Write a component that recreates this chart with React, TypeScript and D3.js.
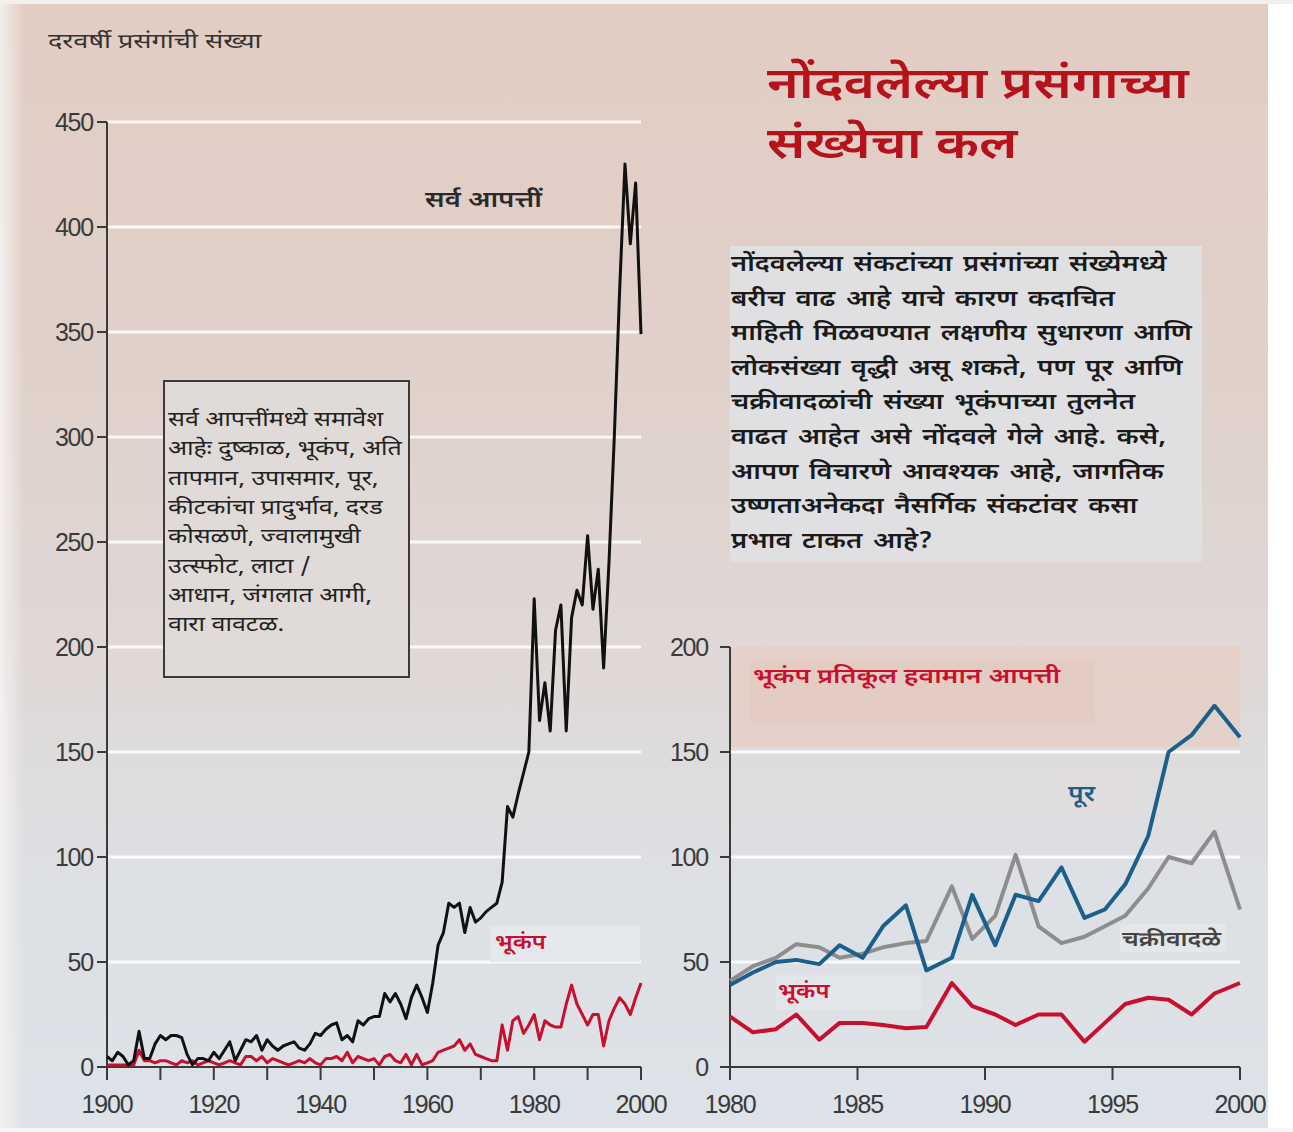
import React from "react";
import * as d3 from "d3";

// ---------- DATA ----------
const leftYears = d3.range(1900, 2001);
const allDisasters = [
  5, 3, 7, 5, 1, 3, 17, 4, 4, 11,
  15, 13, 15, 15, 14, 6, 1, 4, 4, 3,
  7, 4, 8, 12, 3, 8, 13, 12, 15, 8,
  13, 10, 8, 10, 11, 12, 9, 8, 11, 16,
  15, 18, 20, 21, 13, 15, 12, 22, 20, 23,
  24, 24, 35, 31, 35, 30, 23, 33, 39, 33,
  26, 40, 58, 64, 78, 76, 78, 64, 76, 69,
  71, 74, 76, 78, 88, 124, 119, 130, 140, 150,
  223, 165, 183, 160, 208, 220, 160, 214, 227, 220,
  253, 218, 237, 190, 240, 300, 370, 430, 392, 421,
  349,
];
const earthquakesLeft = [
  1, 1, 1, 1, 1, 1, 8, 3, 3, 2,
  3, 3, 2, 1, 3, 2, 3, 1, 2, 3,
  2, 1, 2, 3, 2, 1, 5, 5, 3, 5,
  2, 4, 3, 2, 1, 2, 3, 2, 4, 2,
  1, 4, 4, 5, 3, 7, 2, 5, 4, 3,
  4, 1, 5, 6, 3, 2, 6, 1, 6, 1,
  2, 3, 7, 8, 9, 10, 13, 8, 11, 6,
  5, 4, 3, 3, 20, 8, 22, 24, 16, 20,
  25, 13, 22, 20, 19, 19, 30, 39, 30, 25,
  20, 25, 25, 10, 22, 28, 33, 30, 25, 33,
  40,
];

const rightYears = [
  1980, 1980.9, 1981.8, 1982.6, 1983.5, 1984.3, 1985.2, 1986.0, 1986.9, 1987.7,
  1988.7, 1989.5, 1990.4, 1991.2, 1992.1, 1993.0, 1993.9, 1994.7, 1995.5, 1996.4,
  1997.2, 1998.1, 1999.0, 2000,
];
const floods = [
  39, 45, 50, 51, 49, 58, 52, 67, 77, 46,
  52, 82, 58, 82, 79, 95, 71, 75, 87, 110,
  150, 158, 172, 157,
];
const cyclones = [
  41, 48, 52, 58.5, 57, 52, 54, 57, 59, 60,
  86, 61, 72, 101, 67, 59, 62, 67, 72, 85,
  100, 97, 112, 75,
];
const earthquakesRight = [
  24, 16.5, 18, 25, 13, 21, 21, 20, 18.5, 19,
  40, 29, 25, 20, 25, 25, 12, 21, 30, 33,
  32, 25, 35, 40,
];

const leftYTicks = [0, 50, 100, 150, 200, 250, 300, 350, 400, 450];
const leftXTicks = d3.range(1900, 2001, 10);
const leftXLabels = [1900, 1920, 1940, 1960, 1980, 2000];
const rightYTicks = [0, 50, 100, 150, 200];
const rightXTicks = [1980, 1985, 1990, 1995, 2000];

const yAxisTitle = "दरवर्षी प्रसंगांची संख्या";
const titleLines = ["नोंदवलेल्या प्रसंगाच्या", "संख्येचा कल"];
const noteLines = [
  "सर्व आपत्तींमध्ये समावेश",
  "आहेः दुष्काळ, भूकंप, अति",
  "तापमान, उपासमार, पूर,",
  "कीटकांचा प्रादुर्भाव, दरड",
  "कोसळणे, ज्वालामुखी",
  "उत्स्फोट, लाटा  /",
  "आधान, जंगलात आगी,",
  "वारा वावटळ.",
];
const bodyLines = [
  "नोंदवलेल्या संकटांच्या प्रसंगांच्या संख्येमध्ये",
  "बरीच वाढ आहे याचे कारण कदाचित",
  "माहिती मिळवण्यात लक्षणीय सुधारणा आणि",
  "लोकसंख्या वृद्धी असू शकते, पण पूर आणि",
  "चक्रीवादळांची संख्या भूकंपाच्या तुलनेत",
  "वाढत आहेत असे नोंदवले गेले आहे. कसे,",
  "आपण विचारणे आवश्यक आहे, जागतिक",
  "उष्णताअनेकदा नैसर्गिक संकटांवर कसा",
  "प्रभाव टाकत आहे?",
];
const labelAll = "सर्व आपत्तीं";
const labelQuakeLeft = "भूकंप";
const labelRightTitle = "भूकंप प्रतिकूल हवामान आपत्ती";
const labelFlood = "पूर";
const labelCyclone = "चक्रीवादळे";
const labelQuakeRight = "भूकंप";

// ---------- STYLE ----------
const W = 1293;
const H = 1132;
const DEV = "'Noto Sans Devanagari', 'Noto Sans', 'Lohit Devanagari', sans-serif";
const NUM = "'Liberation Sans', Arial, sans-serif";
const AXIS = "#3a3a3a";
const RED = "#c8102e";
const BLUE = "#1b5f8c";
const GREY = "#8d8d8d";

function WideText(props: {
  x: number;
  y: number;
  sx: number;
  size: number;
  fill: string;
  weight?: string;
  wordSpacing?: number;
  children: React.ReactNode;
}) {
  const { x, y, sx, size, fill, weight, wordSpacing, children } = props;
  return (
    <text
      transform={`translate(${x},${y}) scale(${sx},1)`}
      fontFamily={DEV}
      fontSize={size}
      fontWeight={weight || "normal"}
      fill={fill}
      style={{ wordSpacing: wordSpacing ? `${wordSpacing}px` : undefined }}
    >
      {children}
    </text>
  );
}

export default function App() {
  const xL = d3.scaleLinear().domain([1900, 2000]).range([107, 641]);
  const yL = d3.scaleLinear().domain([0, 450]).range([1067, 122]);
  const xR = d3.scaleLinear().domain([1980, 2000]).range([730, 1240]);
  const yR = d3.scaleLinear().domain([0, 200]).range([1067, 647]);

  const lineL = d3
    .line<number>()
    .x((_, i) => xL(leftYears[i]))
    .y((d) => yL(d))
    .curve(d3.curveLinear);
  const lineR = d3
    .line<number>()
    .x((_, i) => xR(rightYears[i]))
    .y((d) => yR(d))
    .curve(d3.curveLinear);

  const numStyle = { fontFamily: NUM, fontSize: 25, fill: AXIS, letterSpacing: -1.2 } as const;

  return (
    <div style={{ position: "absolute", left: 0, top: 0, width: W, height: H }}>
      <svg width={W} height={H} viewBox={`0 0 ${W} ${H}`} style={{ display: "block" }}>
        <defs>
          <linearGradient id="bg" x1="0" y1="0" x2="0" y2="1">
            <stop offset="0" stopColor="#e2cdc3" />
            <stop offset="0.35" stopColor="#e0d1cb" />
            <stop offset="0.6" stopColor="#dfd9d8" />
            <stop offset="0.78" stopColor="#dde0e4" />
            <stop offset="1" stopColor="#dde3e9" />
          </linearGradient>
          <linearGradient id="edge" x1="0" y1="0" x2="1" y2="0">
            <stop offset="0" stopColor="#f5f2f1" stopOpacity={0.9} />
            <stop offset="1" stopColor="#f5f2f1" stopOpacity={0} />
          </linearGradient>
        </defs>
        <rect x={0} y={0} width={W} height={H} fill="url(#bg)" />
        <rect x={0} y={0} width={24} height={H} fill="url(#edge)" />
        <rect x={1268} y={0} width={25} height={H} fill="#ffffff" />
        <rect x={0} y={0} width={W} height={4} fill="#f4efec" />
        <rect x={0} y={1128} width={W} height={4} fill="#f4f6f8" />

        {/* Left grid */}
        {leftYTicks.filter((t) => t > 0).map((t) => (
          <line key={"gl" + t} x1={xL(1900)} x2={xL(2000)} y1={yL(t)} y2={yL(t)} stroke="#ffffff" strokeWidth={3} opacity={0.85} />
        ))}
        {/* Right grid & pink band */}
        <rect x={xR(1980)} y={yR(200)} width={xR(2000) - xR(1980)} height={yR(150) - yR(200) - 5} fill="#e5cdc2" opacity={0.7} />
        {rightYTicks.filter((t) => t > 0 && t < 200).map((t) => (
          <line key={"gr" + t} x1={xR(1980)} x2={xR(2000)} y1={yR(t)} y2={yR(t)} stroke="#ffffff" strokeWidth={3} opacity={0.85} />
        ))}

        {/* Y axis title */}
        <WideText x={48} y={48} sx={1.35} size={20} fill="#333">{yAxisTitle}</WideText>

        {/* Title */}
        {titleLines.map((t, i) => (
          <WideText key={"t" + i} x={767} y={98 + i * 60} sx={1.22} size={44} weight="600" fill="#b5121b">{t}</WideText>
        ))}

        {/* Body text block */}
        <rect x={730} y={246} width={472} height={316} fill="#e0e0e3" />
        {bodyLines.map((t, i) => (
          <WideText key={"b" + i} x={731} y={271 + i * 34.6} sx={1.21} size={22.5} weight="600" fill="#1a1a1a" wordSpacing={3}>{t}</WideText>
        ))}

        {/* Left axes */}
        <line x1={xL(1900)} x2={xL(1900)} y1={yL(450)} y2={yL(0)} stroke={AXIS} strokeWidth={2} />
        <line x1={xL(1900)} x2={xL(2000)} y1={yL(0)} y2={yL(0)} stroke={AXIS} strokeWidth={2} />
        {leftYTicks.map((t) => (
          <g key={"yl" + t}>
            <line x1={xL(1900) - 10} x2={xL(1900)} y1={yL(t)} y2={yL(t)} stroke={AXIS} strokeWidth={2} />
            <text x={xL(1900) - 14} y={yL(t) + 9} textAnchor="end" {...numStyle}>{t}</text>
          </g>
        ))}
        {leftXTicks.map((t) => (
          <line key={"xl" + t} x1={xL(t)} x2={xL(t)} y1={yL(0)} y2={yL(0) + 13} stroke={AXIS} strokeWidth={2} />
        ))}
        {leftXLabels.map((t) => (
          <text key={"xll" + t} x={xL(t)} y={1113} textAnchor="middle" {...numStyle}>{t}</text>
        ))}

        {/* Left note box */}
        <rect x={164} y={381} width={245} height={296} fill="#e0dbd8" stroke="#3a3a3a" strokeWidth={2} />
        {noteLines.map((t, i) => (
          <WideText key={"n" + i} x={168} y={426 + i * 29.3} sx={1.25} size={20} fill="#222">{t}</WideText>
        ))}

        {/* Left lines */}
        <path d={lineL(earthquakesLeft) || ""} fill="none" stroke={RED} strokeWidth={3} strokeLinejoin="round" />
        <path d={lineL(allDisasters) || ""} fill="none" stroke="#111" strokeWidth={3} strokeLinejoin="round" />

        {/* Left labels */}
        <WideText x={425} y={207} sx={1.25} size={22} weight="600" fill="#2a2a2a">{labelAll}</WideText>
        <rect x={490} y={926} width={150} height={36} fill="#e4e8ec" />
        <WideText x={495} y={949} sx={1.18} size={20} weight="600" fill={RED}>{labelQuakeLeft}</WideText>

        {/* Right axes */}
        <line x1={xR(1980)} x2={xR(1980)} y1={yR(200)} y2={yR(0)} stroke={AXIS} strokeWidth={2} />
        <line x1={xR(1980)} x2={xR(2000)} y1={yR(0)} y2={yR(0)} stroke={AXIS} strokeWidth={2} />
        {rightYTicks.map((t) => (
          <g key={"yr" + t}>
            <line x1={xR(1980) - 10} x2={xR(1980)} y1={yR(t)} y2={yR(t)} stroke={AXIS} strokeWidth={2} />
            <text x={xR(1980) - 22} y={yR(t) + 9} textAnchor="end" {...numStyle}>{t}</text>
          </g>
        ))}
        {rightXTicks.map((t) => (
          <g key={"xr" + t}>
            <line x1={xR(t)} x2={xR(t)} y1={yR(0)} y2={yR(0) + 13} stroke={AXIS} strokeWidth={2} />
            <text x={xR(t)} y={1113} textAnchor="middle" {...numStyle}>{t}</text>
          </g>
        ))}

        {/* Right labels */}
        <rect x={750} y={660} width={345} height={62} fill="#e3cdc3" />
        <WideText x={753} y={683} sx={1.33} size={20} weight="600" fill={RED}>{labelRightTitle}</WideText>
        <rect x={1065} y={776} width={70} height={36} fill="#e2dcdc" />
        <WideText x={1068} y={801} sx={1.2} size={22} weight="600" fill={BLUE}>{labelFlood}</WideText>
        <rect x={1120} y={924} width={106} height={28} fill="#e4e6ea" />
        <WideText x={1122} y={946} sx={1.25} size={20} weight="600" fill="#444">{labelCyclone}</WideText>
        <rect x={776} y={975} width={145} height={35} fill="#e2e5ea" />
        <WideText x={778} y={998} sx={1.2} size={20} weight="600" fill={RED}>{labelQuakeRight}</WideText>

        {/* Right lines */}
        <path d={lineR(earthquakesRight) || ""} fill="none" stroke={RED} strokeWidth={4} strokeLinejoin="round" />
        <path d={lineR(cyclones) || ""} fill="none" stroke={GREY} strokeWidth={4} strokeLinejoin="round" />
        <path d={lineR(floods) || ""} fill="none" stroke={BLUE} strokeWidth={4} strokeLinejoin="round" />
      </svg>
    </div>
  );
}
